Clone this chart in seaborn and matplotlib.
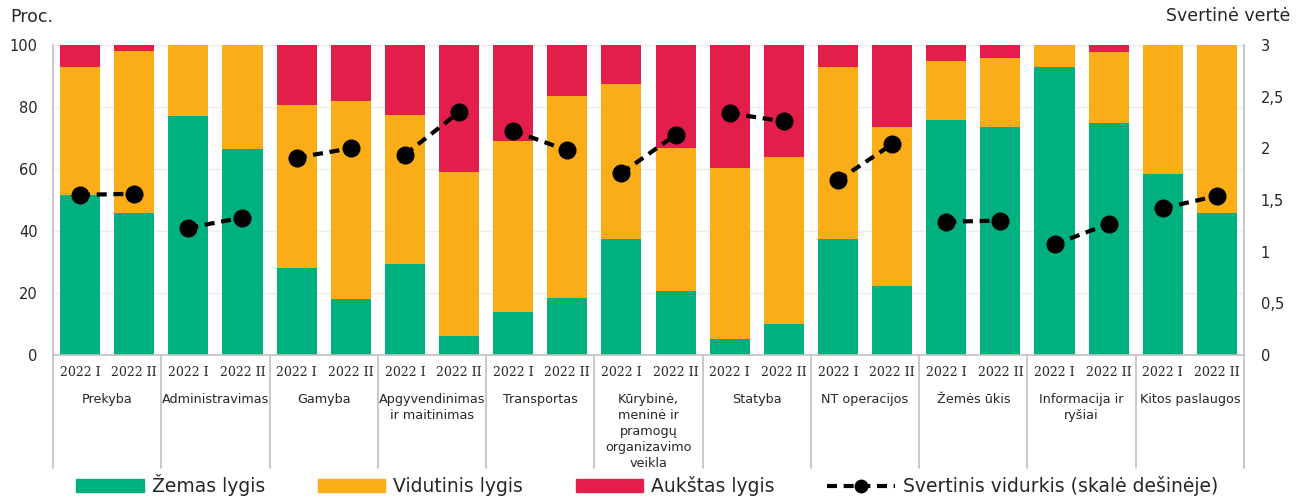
import numpy as np
import pandas as pd
import matplotlib
matplotlib.use("Agg")
import matplotlib.pyplot as plt
import matplotlib.transforms as mtransforms
from matplotlib.patches import Patch
from matplotlib.lines import Line2D
import seaborn as sns

# --- data ---
sectors = ["Prekyba", "Administravimas", "Gamyba", "Apgyvendinimas\nir maitinimas",
           "Transportas", "Kūrybinė,\nmeninė ir\npramogų\norganizavimo\nveikla",
           "Statyba", "NT operacijos", "Žemės ūkis", "Informacija ir\nryšiai",
           "Kitos paslaugos"]
periods = ["2022 I", "2022 II"]

low = [51.6, 45.9, 77.2, 66.5, 28.1, 18.0, 29.2, 6.1, 13.8, 18.4, 37.4,
       20.6, 5.2, 10.0, 37.4, 22.4, 75.9, 73.4, 92.9, 74.8, 58.3, 45.9]
mid = [41.4, 52.1, 22.8, 33.5, 52.5, 63.9, 48.2, 53.0, 55.1, 65.1, 50.0,
       46.1, 55.1, 54.0, 55.5, 51.1, 18.9, 22.5, 7.1, 23.0, 41.7, 54.1]
high = [7.0, 2.0, 0.0, 0.0, 19.4, 18.1, 22.6, 40.9, 31.1, 16.5, 12.6,
        33.3, 39.7, 36.0, 7.1, 26.5, 5.2, 4.1, 0.0, 2.2, 0.0, 0.0]
weighted = [1.55, 1.56, 1.23, 1.33, 1.91, 2.00, 1.94, 2.35, 2.17, 1.98, 1.76,
            2.13, 2.34, 2.26, 1.69, 2.04, 1.29, 1.30, 1.07, 1.27, 1.42, 1.54]

labels = ["Žemas lygis", "Vidutinis lygis", "Aukštas lygis",
          "Svertinis vidurkis (skalė dešinėje)"]

GREEN = "#00b07e"
ORANGE = "#fbad18"
RED = "#e31e4b"
GRAY = "#c0c0c0"

df = pd.DataFrame({
    "sector": np.repeat(sectors, 2),
    "period": periods * len(sectors),
    "low": low, "mid": mid, "high": high, "avg": weighted,
})
df["pos"] = np.arange(len(df))
df["id"] = df["pos"].astype(str)
df["top_mid"] = df["low"] + df["mid"]
df["top_high"] = df["top_mid"] + df["high"]

sns.set_style("white")
plt.rcParams["font.family"] = ["DejaVu Sans"]

fig = plt.figure(figsize=(13.05, 4.97), dpi=100)
fig.subplots_adjust(left=53 / 1305, right=1244 / 1305,
                    bottom=1 - 355 / 497, top=1 - 45 / 497)
ax = fig.add_subplot(111)

order = list(df["id"])
# stacked bars drawn as cumulative layers, back to front
for col, c in [("top_high", RED), ("top_mid", ORANGE), ("low", GREEN)]:
    sns.barplot(data=df, x="id", y=col, order=order, color=c, saturation=1,
                width=0.74, ax=ax, linewidth=0)

ax.set_xlim(-0.5, len(df) - 0.5)
ax.set_ylim(0, 100)
ax.set_yticks(range(0, 101, 20))
ax.tick_params(axis="y", labelsize=10.5, length=0, pad=11)
ax.set_xticks(range(len(df)))
ax.set_xticklabels(list(df["period"]), fontfamily="DejaVu Serif", fontsize=9)
ax.tick_params(axis="x", length=0, pad=8)
ax.set_xlabel("")
ax.set_ylabel("")
ax.yaxis.grid(True, color="#eeeeee", lw=1)
ax.set_axisbelow(True)
for s in ["top", "right"]:
    ax.spines[s].set_visible(False)
for s in ["left", "bottom"]:
    ax.spines[s].set_color(GRAY)
    ax.spines[s].set_linewidth(1.2)

# weighted average on the right scale
ax2 = ax.twinx()
dash = (0, (2.4, 1.6))
sns.lineplot(data=df, x="pos", y="avg", units="sector", estimator=None,
             color="black", lw=3, linestyle=dash, marker="o", markersize=13,
             markeredgewidth=0, ax=ax2, legend=False)
ax2.set_xlim(-0.5, len(df) - 0.5)
ax2.set_ylim(0, 3)
ax2.set_yticks(np.arange(0, 3.01, 0.5))
ax2.set_yticklabels([f"{v:g}".replace(".", ",") for v in np.arange(0, 3.01, 0.5)])
ax2.tick_params(axis="y", labelsize=10.5, length=0, pad=12)
ax2.set_ylabel("")
ax2.set_xlabel("")
for s in ["top", "left", "bottom"]:
    ax2.spines[s].set_visible(False)
ax2.spines["right"].set_color(GRAY)
ax2.spines["right"].set_linewidth(1.2)

# group separators and sector names under the axis
trans = mtransforms.blended_transform_factory(ax.transData, ax.transAxes)
for b in np.arange(-0.5, len(df), 2):
    ax.plot([b, b], [0, -0.365], transform=trans, clip_on=False,
            color=GRAY, lw=1.2)
for k, name in enumerate(sectors):
    ax.text(2 * k + 0.5, -0.121, name, transform=trans, ha="center", va="top",
            fontsize=9.2, linespacing=1.3)

fig.text(10 / 1305, 1 - 17 / 497, "Proc.", fontsize=12.5, va="center", ha="left")
fig.text(1290 / 1305, 1 - 16 / 497, "Svertinė vertė", fontsize=12.5,
         va="center", ha="right")

handles = [Patch(color=GREEN), Patch(color=ORANGE), Patch(color=RED),
           Line2D([], [], color="black", lw=3, linestyle=dash, marker="o",
                  markersize=10, markeredgewidth=0)]
fig.legend(handles, labels, loc="center", bbox_to_anchor=(0.496, 1 - 485 / 497),
           ncol=4, frameon=False, fontsize=13.5, handlelength=3.6,
           handleheight=0.64, handletextpad=0.43, columnspacing=2.8)

fig.savefig("out.png", dpi=100)
